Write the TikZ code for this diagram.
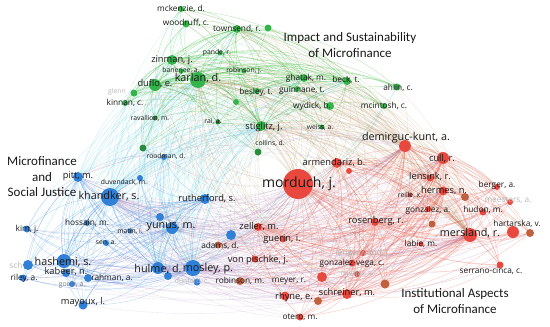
\documentclass[tikz,border=0pt]{standalone}
\usepackage{fontspec}
\setmainfont{Open Sans}
\newfontfamily\titlefont{Carlito}
\usetikzlibrary{calc}
\pgfdeclarelayer{bg}
\pgfdeclarelayer{edges}
\pgfsetlayers{bg,edges,main}
\definecolor{gC}{HTML}{34B54C}
\definecolor{gD}{HTML}{2A8C3E}
\definecolor{bC}{HTML}{2F80D6}
\definecolor{rC}{HTML}{E8483E}
\definecolor{rD}{HTML}{C0603F}
\definecolor{c11}{HTML}{2DB82D}
\definecolor{c22}{HTML}{3D85E0}
\definecolor{c33}{HTML}{EE5A4A}
\definecolor{c13}{HTML}{A87A3A}
\definecolor{c31}{HTML}{A87A3A}
\definecolor{c12}{HTML}{1FBFCF}
\definecolor{c21}{HTML}{1FBFCF}
\definecolor{c23}{HTML}{A070B0}
\definecolor{c32}{HTML}{A070B0}
\newcommand\fXL{\fontsize{14}{16}\selectfont}
\newcommand\fL{\fontsize{10.8}{12}\selectfont}
\newcommand\fM{\fontsize{9.3}{11}\selectfont}
\newcommand\fS{\fontsize{8.3}{10}\selectfont}
\newcommand\fXS{\fontsize{6.8}{8}\selectfont}
\tikzset{
  vdot/.style={circle, inner sep=0pt, draw=none},
  vlab/.style={inner sep=0pt, text=black!90},
  vfaint/.style={inner sep=0pt, text=black!28},
  vgrey/.style={inner sep=0pt, text=black!50},
  vtitle/.style={font=\titlefont\fontsize{13}{15.5}\selectfont, align=center, text=black!90, inner sep=0pt},
}
\newcommand\vn[5]{\node[vdot, fill=#2, minimum size=#5pt] (#1) at (#3,#4) {};}
\newcommand\vl[6][vlab]{\node[#1, font=#3] (#2) at (#4,#5) {#6};}
\newcommand\vedge[4]{%
  \draw[draw=#3, draw opacity=#4, line width=.35pt]
  let \p1=(#1.center), \p2=(#2.center), \p3=(ctr),
      \n1={ifthenelse(((\x2-\x1)/100)*((\y1+\y2)/200-\y3/100)-((\y2-\y1)/100)*((\x1+\x2)/200-\x3/100)>0,18,-18)}
  in (#1) to[bend left=\n1] (#2);}
\begin{document}
\begin{tikzpicture}[x=1pt,y=-1pt]
\begin{pgfonlayer}{bg}
\fill[white] (0,0) rectangle (550,327);
\end{pgfonlayer}
\useasboundingbox (0,0) rectangle (550,327);
\coordinate (ctr) at (275,170);
% green
\vn{mck}{gC}{181}{9}{6}
\vn{woo}{gC}{186}{24}{7}
\vn{tow}{gC}{237}{29}{8}
\vn{towb}{gC}{268}{28}{7}
\vn{pan}{gC}{220}{53}{5}
\vn{zin}{gC}{172}{60}{10}
\vn{ban}{gC}{181}{71}{5}
\vn{robj}{gC}{244}{71}{5}
\vn{kar}{gC}{198}{80}{16}
\vn{duf}{gC}{155}{85}{12}
\vn{gle}{gC}{134}{93}{7}
\vn{kin}{gC}{125}{103}{6}
\vn{bes}{gC}{257}{91}{6}
\vn{gone}{gC}{236}{102}{6}
\vn{gha}{gC}{304}{78}{8}
\vn{bec}{gC}{347}{81}{8}
\vn{gui}{gC}{297}{89}{6}
\vn{ahl}{gC}{397}{87}{7}
\vn{wyd}{gC}{330}{106}{8}
\vn{mci}{gC}{384}{106}{6}
\vn{rav}{gD}{155}{118}{5}
\vn{rai}{gD}{218}{122}{5}
\vn{sti}{gC}{261}{126}{10}
\vn{wei}{gD}{322}{127}{5}
\vn{col}{gD}{258}{152}{7}
\vn{gtwo}{gD}{143}{148}{7}
% blue
\vn{roo}{bC}{164}{157}{6}
\vn{pit}{bC}{78}{177}{10}
\vn{duv}{bC}{140}{178}{6}
\vn{kha}{bC}{110}{197}{18}
\vn{rut}{bC}{205}{199}{10}
\vn{btwo}{bC}{160}{217}{8}
\vn{hos}{bC}{87}{223}{6}
\vn{mat}{bC}{130}{231}{5}
\vn{yun}{bC}{172}{228}{12}
\vn{sen}{bC}{106}{243}{6}
\vn{kim}{bC}{27}{229}{7}
\vn{has}{bC}{64}{261}{14}
\vn{sch}{bC}{28}{265}{10}
\vn{kab}{bC}{66}{273}{8}
\vn{ril}{bC}{23}{278}{7}
\vn{rah}{bC}{88}{278}{8}
\vn{goe}{bC}{72}{284}{6}
\vn{may}{bC}{83}{305}{9}
\vn{hul}{bC}{158}{268}{12}
\vn{mos}{bC}{193}{268}{16}
\vn{bthree}{bC}{168}{276}{8}
\vn{dun}{bC}{197}{282}{7}
\vn{bz}{bC}{231}{235}{10}
% red
\vn{mor}{rC}{298}{184}{30}
\vn{arm}{rC}{337}{163}{10}
\vn{armb}{rC}{349}{171}{6}
\vn{dem}{rC}{405}{146}{12}
\vn{cul}{rC}{443}{158}{12}
\vn{len}{rC}{430}{178}{7}
\vn{her}{rC}{443}{191}{9}
\vn{rone}{rD}{465}{197}{8}
\vn{ber}{rC}{497}{187}{6}
\vn{rei}{rC}{410}{195}{5}
\vn{mee}{rC}{510}{202}{6}
\vn{gon}{rC}{428}{209}{6}
\vn{hud}{rC}{483}{212}{7}
\vn{ros}{rC}{375}{222}{8}
\vn{rtwo}{rD}{432}{224}{7}
\vn{mer}{rC}{470}{235}{14}
\vn{har}{rC}{513}{232}{12}
\vn{harb}{rD}{530}{233}{8}
\vn{lab}{rC}{421}{244}{5}
\vn{zel}{rC}{258}{227}{8}
\vn{ada}{rD}{218}{245}{7}
\vn{gue}{rC}{283}{239}{7}
\vn{von}{rC}{255}{259}{7}
\vn{robm}{rD}{240}{281}{8}
\vn{led}{rC}{363}{253}{6}
\vn{gv}{rC}{352}{263}{7}
\vn{nav}{rC}{357}{274}{6}
\vn{mey}{rC}{322}{277}{10}
\vn{rthree}{rD}{385}{284}{9}
\vn{schr}{rC}{347}{294}{10}
\vn{rhy}{rC}{285}{296}{9}
\vn{rhyb}{rD}{318}{301}{8}
\vn{ote}{rC}{300}{317}{7}
\vn{ser}{rC}{500}{265}{7}
% edges
\begin{pgfonlayer}{edges}
\foreach \a/\ca in {mck/1,woo/1,towb/1,pan/1,ban/1,robj/1,gle/1,kin/1,bes/1,gone/1,gui/1,ahl/1,wyd/1,mci/1,rav/1,rai/1,wei/1,col/1,gtwo/1,
  roo/2,duv/2,btwo/2,hos/2,mat/2,sen/2,kim/2,sch/2,kab/2,ril/2,rah/2,goe/2,may/2,bthree/2,dun/2,bz/2,
  armb/3,len/3,rone/3,ber/3,rei/3,mee/3,gon/3,hud/3,rtwo/3,har/3,harb/3,lab/3,ada/3,gue/3,von/3,robm/3,led/3,gv/3,nav/3,mey/3,rthree/3,rhy/3,rhyb/3,ote/3,ser/3}{
  \foreach \h/\ch/\mj in {kar/1/1,zin/1/0,duf/1/0,sti/1/1,gha/1/0,bec/1/0,tow/1/0,
     kha/2/1,has/2/0,hul/2/1,mos/2/1,yun/2/0,pit/2/0,rut/2/0,
     mor/3/1,dem/3/1,cul/3/0,mer/3/1,arm/3/0,her/3/0,zel/3/0,ros/3/0,schr/3/0}{
    \ifnum\ca=\ch\relax \vedge{\a}{\h}{c\ca\ch}{0.36}\else
      \ifnum\mj=1\relax \vedge{\a}{\h}{c\ca\ch}{0.18}\fi\fi
  }
}
\foreach \a/\ca [count=\i] in {kar/1,zin/1,duf/1,sti/1,gha/1,bec/1,tow/1,
     kha/2,has/2,hul/2,mos/2,yun/2,pit/2,rut/2,
     mor/3,dem/3,cul/3,mer/3,arm/3,her/3,zel/3,ros/3,schr/3}{
  \foreach \b/\cb [count=\j] in {kar/1,zin/1,duf/1,sti/1,gha/1,bec/1,tow/1,
     kha/2,has/2,hul/2,mos/2,yun/2,pit/2,rut/2,
     mor/3,dem/3,cul/3,mer/3,arm/3,her/3,zel/3,ros/3,schr/3}{
    \ifnum\i<\j\relax
      \ifnum\ca=\cb\relax \vedge{\a}{\b}{c\ca\cb}{0.38}\else \vedge{\a}{\b}{c\ca\cb}{0.22}\fi
    \fi
  }
}
\end{pgfonlayer}
% labels
\vl{mck-l}{\fS}{181}{9}{mckenzie, d.}
\vl{woo-l}{\fS}{186}{23}{woodruff, c.}
\vl{tow-l}{\fS}{237}{29}{townsend, r.}
\vl{pan-l}{\fXS}{217}{53}{pande, r.}
\vl{zin-l}{\fM}{172}{60}{zinman, j.}
\vl{ban-l}{\fXS}{181}{71}{banerjee, a.}
\vl{robj-l}{\fXS}{244}{71}{robinson, j.}
\vl{kar-l}{\fL}{198}{78}{karlan, d.}
\vl{duf-l}{\fM}{155}{84}{duflo, e.}
\vl[vfaint]{gle-l}{\fXS}{117}{92}{glenn}
\vl{kin-l}{\fS}{125}{103}{kinnan, c.}
\vl{bes-l}{\fS}{256}{92}{besley, t.}
\vl{gha-l}{\fS}{306}{78}{ghatak, m.}
\vl{bec-l}{\fS}{346}{80}{beck, t.}
\vl{gui-l}{\fS}{302}{90}{guinnane, t.}
\vl{ahl-l}{\fS}{398}{88}{ahlin, c.}
\vl{wyd-l}{\fS}{312}{106}{wydick, b.}
\vl{mci-l}{\fS}{384}{106}{mcintosh, c.}
\vl{rav-l}{\fXS}{150}{118}{ravallion, m.}
\vl{rai-l}{\fXS}{213}{121}{rai, a.}
\vl{sti-l}{\fM}{264}{127}{stiglitz, j.}
\vl{wei-l}{\fXS}{320}{127}{weiss, a.}
\vl{col-l}{\fXS}{270}{143}{collins, d.}
\vl{roo-l}{\fXS}{166}{156}{roodman, d.}
\vl{pit-l}{\fM}{78}{176}{pitt, m.}
\vl{duv-l}{\fXS}{124}{182}{duvendack, m.}
\vl{kha-l}{\fL}{109}{196}{khandker, s.}
\vl{rut-l}{\fM}{207}{199}{rutherford, s.}
\vl{hos-l}{\fS}{87}{223}{hossain, m.}
\vl{mat-l}{\fXS}{130}{231}{matin, i.}
\vl{yun-l}{\fL}{171}{227}{yunus, m.}
\vl{sen-l}{\fXS}{106}{243}{sen, a.}
\vl{kim-l}{\fS}{27}{229}{kim, j.}
\vl{has-l}{\fL}{63}{262}{hashemi, s.}
\vl[vfaint]{sch-l}{\fS}{16}{265}{sch}
\vl{kab-l}{\fM}{66}{272}{kabeer, n.}
\vl{ril-l}{\fS}{24}{278}{riley, a.}
\vl{rah-l}{\fS}{112}{278}{rahman, a.}
\vl[vgrey]{goe-l}{\fXS}{72}{285}{goetz, a.}
\vl{may-l}{\fM}{83}{302}{mayoux, l.}
\vl{hul-l}{\fL}{158}{269}{hulme, d.}
\vl{mos-l}{\fL}{208}{269}{mosley, p.}
\vl[vfaint]{dun-l}{\fXS}{192}{281}{dunford, c.}
\vl{mor-l}{\fXL}{299}{184}{morduch, j.}
\vl{arm-l}{\fM}{334}{163}{armendariz, b.}
\vl{dem-l}{\fL}{406}{138}{demirguc-kunt, a.}
\vl{cul-l}{\fM}{442}{159}{cull, r.}
\vl{len-l}{\fM}{430}{177}{lensink, r.}
\vl{her-l}{\fM}{444}{191}{hermes, n.}
\vl{ber-l}{\fS}{497}{185}{berger, a.}
\vl{rei-l}{\fXS}{410}{195}{reille, x.}
\vl[vfaint]{mee-l}{\fS}{508}{200}{meesters, a.}
\vl{gon-l}{\fS}{428}{210}{gonzalez, a.}
\vl{hud-l}{\fS}{483}{210}{hudon, m.}
\vl{ros-l}{\fM}{376}{221}{rosenberg, r.}
\vl{mer-l}{\fL}{470}{233}{mersland, r.}
\vl{har-l}{\fS}{517}{224}{hartarska, v.}
\vl{lab-l}{\fS}{421}{244}{labie, m.}
\vl{zel-l}{\fM}{259}{227}{zeller, m.}
\vl{ada-l}{\fS}{220}{246}{adams, d.}
\vl{gue-l}{\fM}{282}{239}{guerin, i.}
\vl{von-l}{\fM}{258}{260}{von pischke, j.}
\vl{robm-l}{\fS}{240}{281}{robinson, m.}
\vl[vfaint]{led-l}{\fS}{363}{253}{ledgerwood, j.}
\vl{gv-l}{\fS}{352}{263}{gonzalez-vega, c.}
\vl[vfaint]{nav-l}{\fXS}{357}{274}{navajas, s.}
\vl{mey-l}{\fS}{289}{281}{meyer, r.}
\vl{schr-l}{\fM}{347}{293}{schreiner, m.}
\vl{rhy-l}{\fM}{294}{297}{rhyne, e.}
\vl{ote-l}{\fS}{300}{317}{otero, m.}
\vl{ser-l}{\fS}{491}{271}{serrano-cinca, c.}
% cluster titles
\node[vtitle] (t-impact) at (350,45) {Impact and Sustainability\\of Microfinance};
\node[vtitle] (t-social) at (42,177) {Microfinance\\and\\Social Justice};
\node[vtitle] (t-inst) at (455,301) {Institutional Aspects\\of Microfinance};
\end{tikzpicture}
\end{document}
